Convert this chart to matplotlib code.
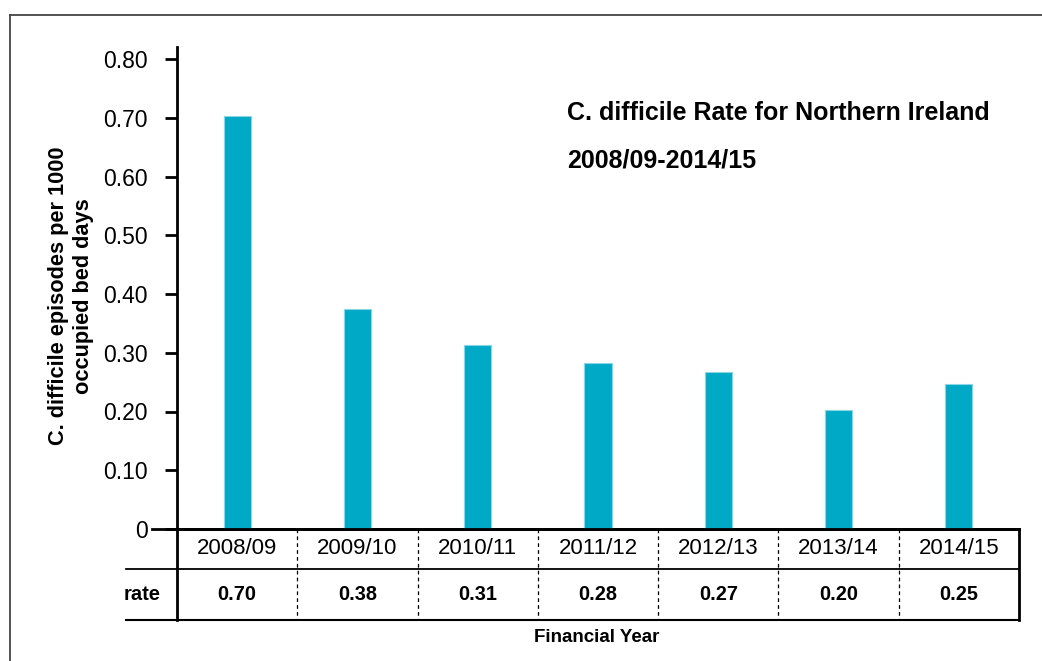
import matplotlib
matplotlib.use("Agg")
import matplotlib.pyplot as plt

plt.rcParams["font.family"] = ["Liberation Sans", "DejaVu Sans"]

# data
years = ["2008/09", "2009/10", "2010/11", "2011/12", "2012/13", "2013/14", "2014/15"]
rate = [0.703, 0.374, 0.313, 0.282, 0.267, 0.202, 0.246]
rate_labels = ["0.70", "0.38", "0.31", "0.28", "0.27", "0.20", "0.25"]
yticks = [0, 0.10, 0.20, 0.30, 0.40, 0.50, 0.60, 0.70, 0.80]
ytick_labels = ["0", "0.10", "0.20", "0.30", "0.40", "0.50", "0.60", "0.70", "0.80"]

W, H = 1042, 661
fig = plt.figure(figsize=(W / 100, H / 100), dpi=100)
fig.patch.set_facecolor("white")

# figure frame (top / left)
fig.add_artist(plt.Line2D([10 / W, 10 / W], [0, 1 - 15 / H], transform=fig.transFigure,
                          color="#444444", lw=1.3))
fig.add_artist(plt.Line2D([10 / W, 1], [1 - 15 / H, 1 - 15 / H], transform=fig.transFigure,
                          color="#444444", lw=1.3))

# axes in pixel layout
left, right, bottom, top = 177, 1019, 529, 47
ax = fig.add_axes([left / W, 1 - bottom / H, (right - left) / W, (bottom - top) / H])
px_per_unit = (529 - 59) / 0.8
ax.set_ylim(0, (bottom - top) / px_per_unit)
ax.set_xlim(-0.5, len(years) - 0.5)

x = list(range(len(years)))
ax.bar(x, rate, width=0.225, color="#00A9C6", edgecolor="#8ad6e4", linewidth=0.8, zorder=3)

for s in ["top", "right"]:
    ax.spines[s].set_visible(False)
ax.spines["left"].set_linewidth(2.0)
ax.spines["bottom"].set_linewidth(2.0)

ax.set_yticks(yticks)
ax.set_yticklabels(ytick_labels, fontsize=16.5)
ax.tick_params(axis="y", length=9, width=2.0, pad=12)
ax.set_xticks([])

# table below the axis
ah = bottom - top
y1 = -(569 - bottom) / ah
y2 = -(620 - bottom) / ah
tr = ax.get_xaxis_transform()
cw = (right - left) / 7
lx = -0.5 - (left - 126) / cw
lx0 = -0.5 - (left - 152) / cw
ax.plot([lx0, 6.5], [0, 0], transform=tr, color="black", lw=2.0, clip_on=False, zorder=4)
ax.plot([lx, 6.5], [y1, y1], transform=tr, color="black", lw=1.3, clip_on=False)
ax.plot([lx, 6.5], [y2, y2], transform=tr, color="black", lw=1.5, clip_on=False)
ax.plot([-0.5, -0.5], [0, y2], transform=tr, color="black", lw=2.0, clip_on=False)
ax.plot([6.5, 6.5], [0, y2], transform=tr, color="black", lw=2.0, clip_on=False)
for i in range(1, len(years)):
    ax.plot([i - 0.5, i - 0.5], [0, y2], transform=tr, color="black", lw=0.9,
            ls=(0, (3, 2.5)), clip_on=False)

for i, (yr, lab) in enumerate(zip(years, rate_labels)):
    ax.text(i, y1 / 2, yr, transform=tr, ha="center", va="center", fontsize=16)
    ax.text(i, (y1 + y2) / 2, lab, transform=tr, ha="center", va="center",
            fontsize=14.3, fontweight="bold")
ax.text(-0.5 - 16 / cw, (y1 + y2) / 2, "rate", transform=tr, ha="right", va="center",
        fontsize=14.5, fontweight="bold")

# titles and labels
fig.text(567 / W, 1 - 113 / H, "C. difficile Rate for Northern Ireland", ha="left",
         va="center", fontsize=18, fontweight="bold")
fig.text(567 / W, 1 - 160 / H, "2008/09-2014/15", ha="left", va="center",
         fontsize=18, fontweight="bold")
fig.text(71 / W, 1 - 296 / H, "C. difficile episodes per 1000\noccupied bed days",
         ha="center", va="center", rotation=90, fontsize=15.7, fontweight="bold",
         linespacing=1.25)
fig.text(597 / W, 1 - 637 / H, "Financial Year", ha="center", va="center",
         fontsize=13.5, fontweight="bold")

fig.savefig("out.png", dpi=100, facecolor="white")
